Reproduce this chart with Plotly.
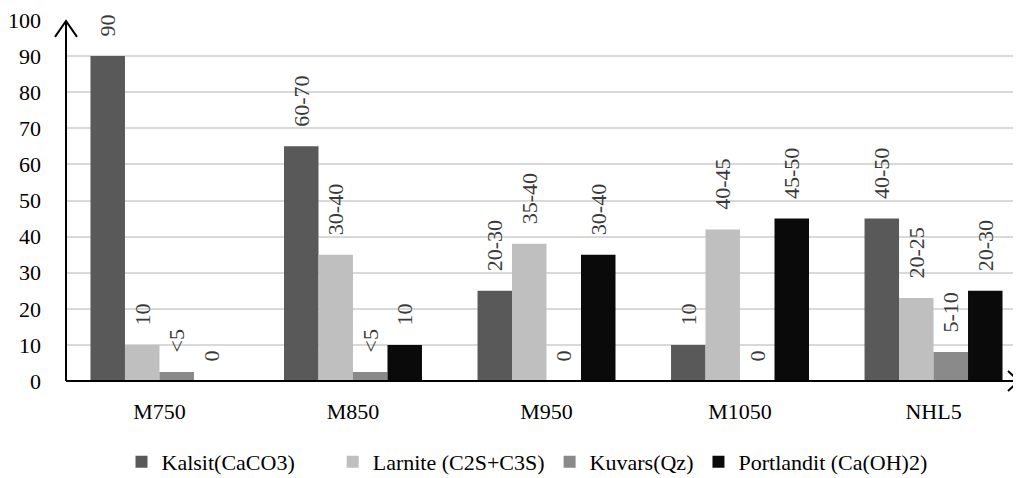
import plotly.graph_objects as go

categories = ["M750", "M850", "M950", "M1050", "NHL5"]
series_names = ["Kalsit(CaCO3)", "Larnite (C2S+C3S)", "Kuvars(Qz)", "Portlandit (Ca(OH)2)"]
kalsit = [90, 65, 25, 10, 45]
larnite = [10, 35, 38, 42, 23]
kuvars = [2.5, 2.5, 0, 0, 8]
portlandit = [0, 10, 35, 45, 25]
kalsit_lbl = ["90", "60-70", "20-30", "10", "40-50"]
larnite_lbl = ["10", "30-40", "35-40", "40-45", "20-25"]
kuvars_lbl = ["<5", "<5", "0", "0", "5-10"]
portlandit_lbl = ["0", "10", "30-40", "45-50", "20-30"]
y_ticks = [0, 10, 20, 30, 40, 50, 60, 70, 80, 90, 100]

colors = ["#595959", "#bfbfbf", "#8a8a8a", "#0a0a0a"]
values = [kalsit, larnite, kuvars, portlandit]
labels = [kalsit_lbl, larnite_lbl, kuvars_lbl, portlandit_lbl]
legend_pad = ["\u00a0" * 6, "", "", ""]

FONT = "Liberation Serif, Times New Roman, Times, serif"
OFF = 8  # page body margin
W, H = 1021 - OFF, 478 - OFF
L, R, T, B = 66 - OFF, 0, 18 - OFF, 97
PW, PH = W - L - R, H - T - B

fig = go.Figure()
pad = "\u00a0\u00a0\u00a0"
for name, vals, lbls, col, lp in zip(series_names, values, labels, colors, legend_pad):
    fig.add_trace(go.Bar(
        name=name + lp, x=categories, y=vals,
        text=[pad + s for s in lbls],
        textposition="outside", textangle=-90,
        textfont=dict(family=FONT, size=22, color="#3a3a3a"),
        constraintext="none", cliponaxis=False,
        marker=dict(color=col, line=dict(width=0)),
    ))

def px2paper(x, y):
    # x, y are page pixel coordinates
    fx, fy = x - OFF, y - OFF
    return (fx - L) / PW, (H - B - fy) / PH

def polyline(points):
    p = [px2paper(*q) for q in points]
    return "M " + " L ".join("{} {}".format(a, b) for a, b in p)

shapes = [
    dict(type="path", xref="paper", yref="paper",
         path=polyline([(55, 35), (66, 19), (77, 35)]), line=dict(color="black", width=2)),
    dict(type="path", xref="paper", yref="paper",
         path=polyline([(66, 381), (66, 19)]), line=dict(color="black", width=2)),
    dict(type="path", xref="paper", yref="paper",
         path=polyline([(66, 381), (1019, 381)]), line=dict(color="black", width=2)),
    dict(type="path", xref="paper", yref="paper",
         path=polyline([(1008, 371), (1019, 381), (1008, 391)]), line=dict(color="black", width=2)),
]

fig.update_layout(
    width=W, height=H,
    margin=dict(l=L, r=R, t=T, b=B, pad=0),
    paper_bgcolor="white", plot_bgcolor="white",
    barmode="group", bargap=0.287, bargroupgap=0,
    font=dict(family=FONT, size=22, color="black"),
    showlegend=True,
    legend=dict(orientation="h", xref="container", yref="container",
                x=(527 - OFF) / W, xanchor="center", y=1 - (462 - OFF) / H, yanchor="middle",
                font=dict(family=FONT, size=22, color="black"),
                itemwidth=30, tracegroupgap=0, traceorder="normal"),
    shapes=shapes,
)
fig.update_xaxes(range=[-0.483, 4.452], showline=False, showgrid=False, ticks="",
                 ticklabelstandoff=15, ticklabeloverflow="allow",
                 tickfont=dict(family=FONT, size=22), zeroline=False, fixedrange=True)
fig.update_yaxes(range=[0, 100], tickvals=y_ticks, showgrid=True, gridcolor="#d9d9d9", gridwidth=1.5,
                 showline=False, zeroline=False, ticks="", ticklabelstandoff=24,
                 ticklabeloverflow="allow",
                 tickfont=dict(family=FONT, size=22), fixedrange=True)

fig.write_html("out.html")
